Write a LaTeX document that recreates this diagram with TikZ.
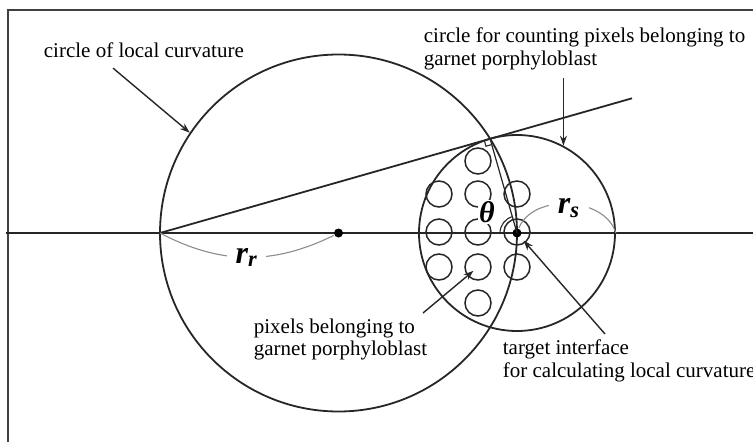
\documentclass[tikz,border=0pt]{standalone}
\usepackage{fontspec}
\setmainfont{Liberation Serif}
\usetikzlibrary{arrows.meta,calc}
\begin{document}
\begin{tikzpicture}[font=\fontsize{21}{22.5}\selectfont,>={Stealth[length=10pt,width=7pt]},x=1pt,y=-1pt,line width=1.8pt,draw=black!85,
  pixel/.style={circle,draw=black!85,line width=1.5pt,minimum size=26pt,inner sep=0pt},
  dot/.style={circle,fill=black,inner sep=0pt,minimum size=9pt},
  lbl/.style={inner sep=0pt,align=left},
  rad/.style={draw=black!45,line width=1.1pt},
  rlab/.style={fill=white,inner xsep=9pt,inner ysep=1pt,font=\fontsize{32}{32}\selectfont\bfseries\itshape}]
\useasboundingbox (0,0) rectangle (753,442);
\clip (0,0) rectangle (753,442);
\draw[black!75,line width=1.8pt] (8,10) rectangle (790,480);
\draw[black!85] (6,233) -- (760,233);
\node[circle,draw=black!85,minimum size=357pt,inner sep=0pt] (curv) at (338.5,233) {};
\node[circle,draw=black!85,minimum size=196pt,inner sep=0pt] (count) at (517,233) {};
\node[pixel] (p1) at (439,194) {};
\node[pixel] (p2) at (439,232) {};
\node[pixel] (p3) at (439,267) {};
\node[pixel] (p4) at (478,161) {};
\node[pixel] (p5) at (478,194) {};
\node[pixel] (p6) at (478,232) {};
\node[pixel] (p7) at (478,267) {};
\node[pixel] (p8) at (478,303) {};
\node[pixel] (p9) at (517,194) {};
\node[pixel] (p10) at (517,232) {};
\node[pixel] (p11) at (517,267) {};
\node[dot] (ctr) at (curv.center) {};
\node[dot] (tgt) at (517,233) {};
\coordinate (L) at ($(curv.center)+(-178.5,0)$);
\coordinate (P) at (490.1,138.8);
\coordinate (tend) at ($(L)!1.43!(P)$);
\coordinate (ra) at ($(P)!6pt!(L)$);
\coordinate (rb) at ($(P)!6pt!(tgt.center)$);
\draw[black!85] (L) -- (tend);
\draw[black!85,line width=1.2pt] (P) -- (tgt.center);
\draw[black!85,line width=1.1pt] (ra) -- ($(ra)+(rb)-(P)$) -- (rb);
\draw[black!85,line width=1.1pt] ([shift={(106:17pt)}]tgt.center) arc[start angle=106,end angle=180,radius=17pt];
\node[fill=white,inner sep=1pt,font=\fontsize{30}{30}\selectfont\bfseries\itshape] (th) at (487,212) {θ};
\draw[rad] (L) to[bend right=27] node[rlab] (rr) {r\textsubscript{r}} (ctr);
\draw[rad] (tgt) to[bend left=70] node[rlab,yshift=-4pt] (rs) {r\textsubscript{s}} (count.east);
\node[lbl,anchor=base west] (lcurv) at (43,57) {circle of local curvature};
\node[lbl,anchor=north west] (lcount) at (423,27) {circle for counting pixels belonging to\\garnet porphyloblast};
\node[lbl,anchor=north west] (lpix) at (253,318) {pixels belonging to\\garnet porphyloblast};
\node[lbl,anchor=north west] (ltgt) at (502,339) {target interface\\for calculating local curvature};
\draw[->,black!85,line width=1.4pt] ([xshift=70pt,yshift=-10pt]lcurv.south west) -- (curv.146);
\draw[->,black!85,line width=1.4pt] ([yshift=-7pt]lcount.south -| count.62) -- (count.62);
\draw[->,black!85,line width=1.4pt,shorten >=6pt] ([shift={(-5pt,5pt)}]lpix.north east) -- (p7.center);
\draw[->,black!85,line width=1.4pt,shorten >=10pt] ([shift={(103pt,5pt)}]ltgt.north west) -- (tgt.center);
\end{tikzpicture}
\end{document}
